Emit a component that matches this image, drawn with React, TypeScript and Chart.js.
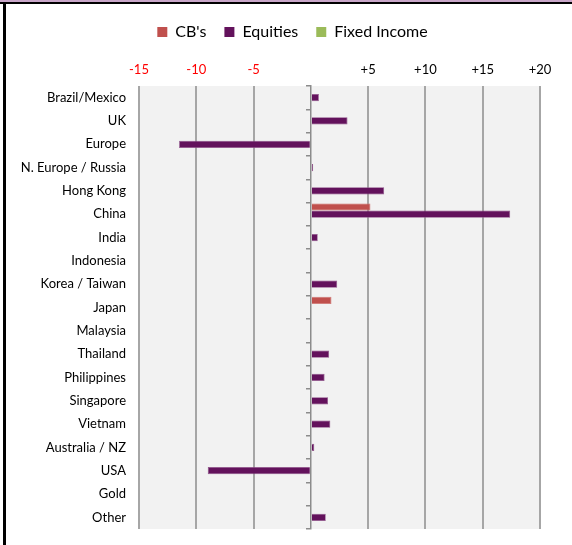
import React, { useEffect, useRef } from "react";
import { Chart, registerables } from "chart.js";

Chart.register(...registerables);

const categories = [
  "Brazil/Mexico",
  "UK",
  "Europe",
  "N. Europe / Russia",
  "Hong Kong",
  "China",
  "India",
  "Indonesia",
  "Korea / Taiwan",
  "Japan",
  "Malaysia",
  "Thailand",
  "Philippines",
  "Singapore",
  "Vietnam",
  "Australia / NZ",
  "USA",
  "Gold",
  "Other",
];

const seriesNames = ["CB's", "Equities", "Fixed Income"];

const cbValues = [null, null, null, null, null, 5.2, null, null, null, 1.8, null, null, null, null, null, null, null, null, null];
const equitiesValues = [0.7, 3.2, -11.5, 0.2, 6.4, 17.4, 0.6, null, 2.3, null, null, 1.6, 1.2, 1.5, 1.7, 0.3, -9.0, null, 1.3];
const fixedIncomeValues = [null, null, null, null, null, null, null, null, null, null, null, null, null, null, null, null, null, null, null];

const xMin = -15;
const xMax = 20;
const xStep = 5;

const FONT = "Lato, 'Open Sans', 'DejaVu Sans', sans-serif";
Chart.defaults.font.family = FONT;

const PAD_TOP = 6;
const PLOT_TOP = 86;
const PLOT_LEFT = 139;
const LEGEND_SHIFT = 45;

export default function App() {
  const ref = useRef<HTMLCanvasElement>(null);

  useEffect(() => {
    const plotBg = {
      id: "plotBg",
      beforeDraw(chart: any) {
        const { ctx, chartArea: a } = chart;
        ctx.save();
        ctx.fillStyle = "#f2f2f2";
        ctx.fillRect(a.left, a.top, a.width, a.height);
        ctx.restore();
      },
    };
    const legendShift = {
      id: "legendShift",
      afterLayout(chart: any) {
        if (chart.legend) {
          chart.legend.left += LEGEND_SHIFT;
          chart.legend.width -= LEGEND_SHIFT;
        }
      },
    };

    const chart = new Chart(ref.current as HTMLCanvasElement, {
      type: "bar",
      data: {
        labels: categories,
        datasets: [
          {
            label: seriesNames[0],
            data: cbValues as any,
            backgroundColor: "#c0504d",
            borderColor: "#cf716e",
            borderWidth: 0.75,
          },
          {
            label: seriesNames[1],
            data: equitiesValues as any,
            backgroundColor: "#63125c",
            borderColor: "#8e5089",
            borderWidth: 0.75,
          },
          {
            label: seriesNames[2],
            data: fixedIncomeValues as any,
            backgroundColor: "#9bbb59",
            borderColor: "#b0ca7a",
            borderWidth: 0.75,
          },
        ],
      },
      options: {
        indexAxis: "y",
        animation: false,
        responsive: true,
        maintainAspectRatio: false,
        layout: { padding: { top: PAD_TOP, left: 0, right: 32, bottom: 16 } },
        datasets: { bar: { categoryPercentage: 0.93, barPercentage: 1 } },
        plugins: {
          legend: {
            position: "top",
            labels: {
              boxWidth: 10,
              boxHeight: 10,
              padding: 18,
              color: "#000",
              font: { size: 16, family: FONT },
              generateLabels(c: any) {
                const items = (Chart.defaults.plugins.legend.labels as any).generateLabels(c);
                return items.map((it: any) => ({ ...it, lineWidth: 0, strokeStyle: "rgba(0,0,0,0)" }));
              },
            },
          },
          tooltip: { enabled: false },
        },
        scales: {
          x: {
            position: "top",
            min: xMin,
            max: xMax,
            ticks: {
              stepSize: xStep,
              autoSkip: false,
              maxRotation: 0,
              padding: 8,
              font: { size: 13, family: FONT },
              color: (ctx: any) => (ctx.tick && ctx.tick.value < 0 ? "#ff0000" : "#000000"),
              callback: (v: any) => {
                const n = Number(v);
                if (n === 0) return "";
                return n > 0 ? "+" + n : String(n);
              },
            },
            grid: {
              drawTicks: false,
              lineWidth: 2,
              color: (ctx: any) => (ctx.tick && ctx.tick.value === 0 ? "rgba(0,0,0,0)" : "#a6a6a6"),
            },
            border: { display: false },
            afterFit(scale: any) {
              scale.height = PLOT_TOP - PAD_TOP - scale.chart.legend.height;
            },
          },
          y: {
            type: "category",
            position: "left",
            grid: { display: false, drawTicks: true, tickLength: 13 },
            border: { display: false },
            ticks: { color: "#000", padding: 0, font: { size: 13, family: FONT }, autoSkip: false },
            afterFit(scale: any) {
              scale.width = PLOT_LEFT;
            },
          },
          y2: {
            type: "category",
            position: { x: 0 } as any,
            offset: true,
            grid: { drawOnChartArea: false, offset: true, tickLength: 4, color: "#8c8c8c", lineWidth: 1.5 },
            border: { color: "#8c8c8c", width: 1.5 },
            ticks: { display: false },
          },
        } as any,
      },
      plugins: [plotBg, legendShift],
    });

    return () => chart.destroy();
  }, []);

  return (
    <div
      style={{
        position: "fixed",
        left: 0,
        top: 0,
        width: 572,
        height: 545,
        background: "#fff",
        overflow: "hidden",
      }}
    >
      <div style={{ position: "absolute", left: 0, top: 0, width: 572, height: 545 }}>
        <canvas ref={ref} />
      </div>
      <div style={{ position: "absolute", left: 0, top: 0, width: 572, height: 2, background: "#c8a6c8" }} />
      <div style={{ position: "absolute", left: 0, top: 2, width: 572, height: 2, background: "#000" }} />
      <div style={{ position: "absolute", left: 3, top: 2, width: 3, height: 543, background: "#000" }} />
    </div>
  );
}
